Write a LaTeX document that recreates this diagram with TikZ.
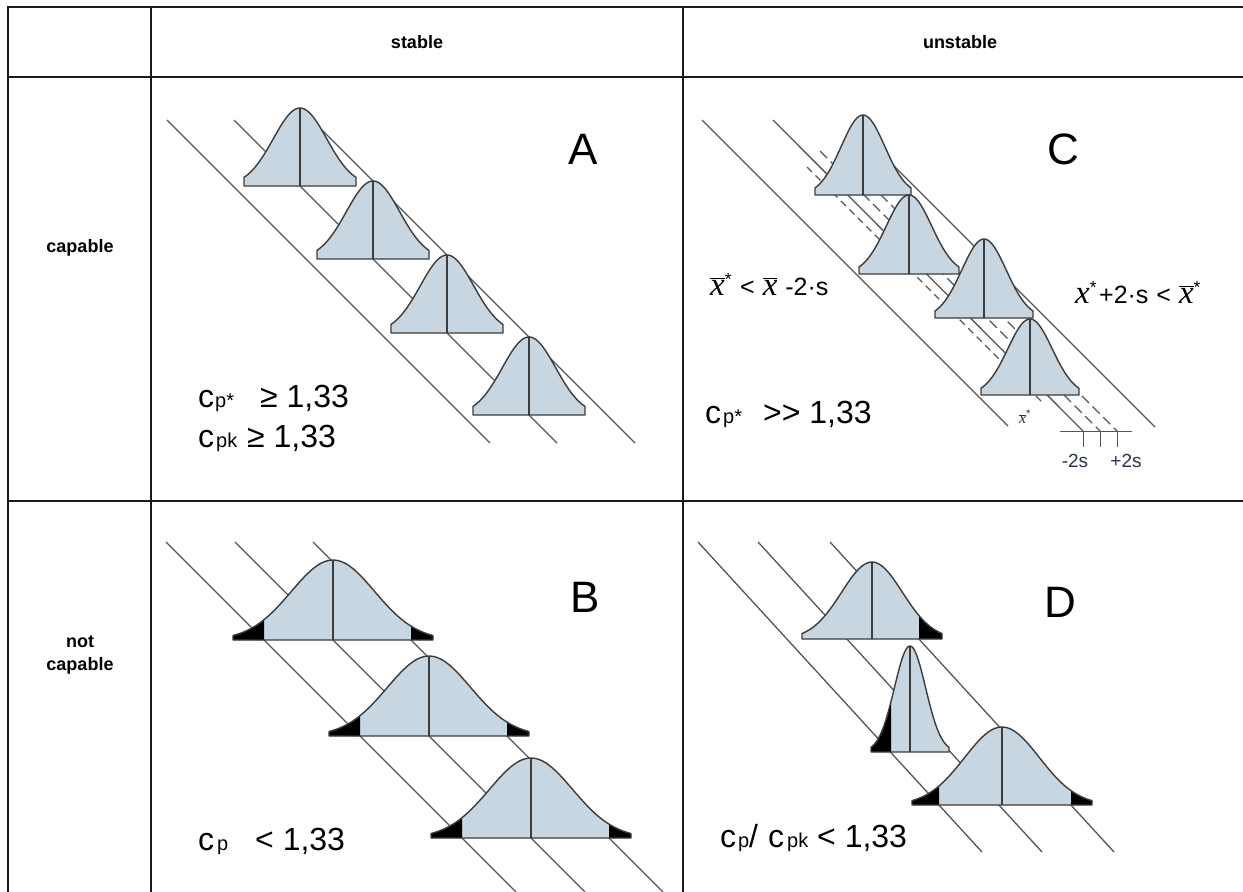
\documentclass[tikz,border=0pt]{standalone}
\usepackage{fontspec}
\setmainfont{Liberation Sans}
\newfontfamily\serifit{Liberation Serif}
\definecolor{bellblue}{RGB}{199,214,224}
\definecolor{inkgray}{RGB}{60,60,60}
\definecolor{linegray}{RGB}{85,85,85}
\definecolor{scaleblue}{RGB}{40,50,80}
\definecolor{rulecol}{RGB}{25,25,25}
\newcommand{\xb}{\ensuremath{\overline{\mbox{\serifit\itshape x}}}}
\newcommand{\xbL}{{\fontsize{33}{33}\selectfont\xb}}
\newcommand{\xL}{{\fontsize{33}{33}\selectfont\serifit\itshape x}}
% cx by w h k from to style
\newcommand{\bellregion}[8]{%
  \fill[#8] ({#1+(#6)},#2) -- plot[domain=#6:#7,samples=40] ({#1+\x},{#2-#4*exp(-0.5*#5*#5*(\x/#3)*(\x/#3))}) -- ({#1+(#7)},#2) -- cycle;}
\newcommand{\bellbody}[5]{\bellregion{#1}{#2}{#3}{#4}{#5}{-#3}{#3}{bellin}}
\newcommand{\bellline}[5]{%
  \draw[bellout] ({#1-#3},#2) -- plot[domain=-#3:#3,samples=60] ({#1+\x},{#2-#4*exp(-0.5*#5*#5*(\x/#3)*(\x/#3))}) -- ({#1+#3},#2) -- cycle;
  \draw[bellout] (#1,#2) -- (#1,{#2-#4});}
\newcommand{\bellcurve}[5]{\bellbody{#1}{#2}{#3}{#4}{#5}\bellline{#1}{#2}{#3}{#4}{#5}}
\tikzset{
  tablerule/.style={line width=2.2pt, draw=rulecol},
  diag/.style={line width=1.3pt, draw=linegray},
  diagdash/.style={diag, dash pattern=on 10pt off 5pt},
  bellout/.style={line width=1.4pt, draw=inkgray, line join=round},
  bellin/.style={fill=bellblue},
  tailfill/.style={fill=black},
  hdr/.style={font=\fontsize{18}{23}\selectfont\bfseries, align=center},
  letter/.style={font=\fontsize{44}{50}\selectfont},
  big/.style={font=\fontsize{32}{36}\selectfont, anchor=base west, inner sep=0pt},
  small/.style={font=\fontsize{20}{22}\selectfont, anchor=base west, inner sep=0pt},
  formula/.style={font=\fontsize{25}{28}\selectfont, anchor=base west, inner sep=0pt},
}
\begin{document}
\begin{tikzpicture}[x=1pt,y=-1pt]
\useasboundingbox (0,0) rectangle (1243,892);
\fill[white] (0,0) rectangle (1243,892);
% table
\draw[tablerule] (8,7) -- (1243,7);
\draw[tablerule] (8,77) -- (1243,77);
\draw[tablerule] (8,501) -- (1243,501);
\draw[tablerule] (8,6) -- (8,892);
\draw[tablerule] (151,6) -- (151,892);
\draw[tablerule] (683,6) -- (683,892);
% headers
\node[hdr] (hstable) at (417,42) {stable};
\node[hdr] (hunstable) at (960,42) {unstable};
\node[hdr] (hcap) at (80,248) {capable};
\node[hdr] (hnotcap) at (80,655) {not\\capable};

% ---------- A ----------
\draw[diag] (167,120) -- (490,443);
\draw[diag] (234,120) -- (557,443);
\draw[diag] (322,130) -- (635,443);
\bellcurve{300}{186}{56}{78}{2.1}
\bellcurve{373}{259}{56}{78}{2.1}
\bellcurve{447}{333}{56}{78}{2.1}
\bellcurve{529}{415}{56}{78}{2.1}
\node[letter] (lA) at (583,149) {A};
\node[big] (a1c) at (198,407) {c};
\node[small] (a1s) at (215,407) {p*};
\node[big] (a1v) at (260,407) {≥ 1,33};
\node[big] (a2c) at (198,447) {c};
\node[small] (a2s) at (216,447) {pk};
\node[big] (a2v) at (247,447) {≥ 1,33};

% ---------- C ----------
\draw[diag] (702,120) -- (1008,426);
\draw[diag] (873,145) -- (1155,427);
\draw[diag] (773,120) -- (1083,431);
\draw[diag, dash pattern=on 7pt off 5pt] (807,167) -- (1042,402);
\draw[diagdash] (820,151) -- (1100,431);
\draw[diagdash] (838,152) -- (1117,431);
\bellcurve{863}{195}{48}{80}{2.2}
\bellcurve{909}{274}{50}{79}{2.2}
\bellcurve{984}{318}{49}{79}{2.2}
\bellcurve{1030}{395}{49}{76}{2.2}
\draw[diag, line width=1pt] (1060,431) -- (1132,431);
\draw[diag, line width=1pt] (1083,431) -- (1083,447);
\draw[diag, line width=1pt] (1100,431) -- (1100,447);
\draw[diag, line width=1pt] (1117,431) -- (1117,447);
\node[font=\fontsize{19}{19}\selectfont, text=scaleblue] (lm2s) at (1075,461) {-2s};
\node[font=\fontsize{19}{19}\selectfont, text=scaleblue] (lp2s) at (1126,461) {+2s};
\node[font=\fontsize{16}{16}\selectfont, text=scaleblue, inner sep=0pt] (xstar) at (1025,417) {\xb\textsuperscript{*}};
\node[letter] (lC) at (1063,149) {C};
\node[formula] (fl) at (710,295) {\xbL\textsuperscript{*}\hspace{8pt}<\hspace{8pt}\xbL\hspace{8pt}-2·s};
\node[formula] (fr) at (1075,303) {\xL\textsuperscript{*}\hspace{2pt}+2·s\hspace{8pt}<\hspace{8pt}\xbL\textsuperscript{*}};
\node[big] (c1c) at (705,423) {c};
\node[small] (c1s) at (723,423) {p*};
\node[big] (c1v) at (763,423) {>{}> 1,33};

% ---------- B ----------
\draw[diag] (166,542) -- (516,892);
\draw[diag] (235,542) -- (585,892);
\draw[diag] (313,542) -- (663,892);
\foreach \cx/\by in {333/640, 429/736, 531/838}{
  \bellbody{\cx}{\by}{100}{80}{2.4}
  \bellregion{\cx}{\by}{100}{80}{2.4}{-100}{-69}{tailfill}
  \bellregion{\cx}{\by}{100}{80}{2.4}{78}{100}{tailfill}
  \bellline{\cx}{\by}{100}{80}{2.4}
}
\node[letter] (lB) at (585,597) {B};
\node[big] (b1c) at (198,850) {c};
\node[small] (b1s) at (217,850) {p};
\node[big] (b1v) at (255,850) {< 1,33};

% ---------- D ----------
\draw[diag] (698,542) -- (982,852);
\draw[diag] (758,542) -- (1042,852);
\draw[diag] (830,542) -- (1114,852);
\bellbody{872}{639}{70}{77}{2.3}
\bellregion{872}{639}{70}{77}{2.3}{47}{70}{tailfill}
\bellline{872}{639}{70}{77}{2.3}
\bellbody{910}{752}{39}{106}{2.5}
\bellregion{910}{752}{39}{106}{2.5}{-39}{-19}{tailfill}
\bellline{910}{752}{39}{106}{2.5}
\bellbody{1002}{805}{90}{78}{2.4}
\bellregion{1002}{805}{90}{78}{2.4}{-90}{-63}{tailfill}
\bellregion{1002}{805}{90}{78}{2.4}{69}{90}{tailfill}
\bellline{1002}{805}{90}{78}{2.4}
\node[letter] (lD) at (1060,602) {D};
\node[big] (d1c) at (720,847) {c};
\node[small] (d1s) at (738,847) {p};
\node[big] (d1sl) at (749,847) {/};
\node[big] (d2c) at (768,847) {c};
\node[small] (d2s) at (787,847) {pk};
\node[big] (d1v) at (817,847) {< 1,33};
\end{tikzpicture}
\end{document}
